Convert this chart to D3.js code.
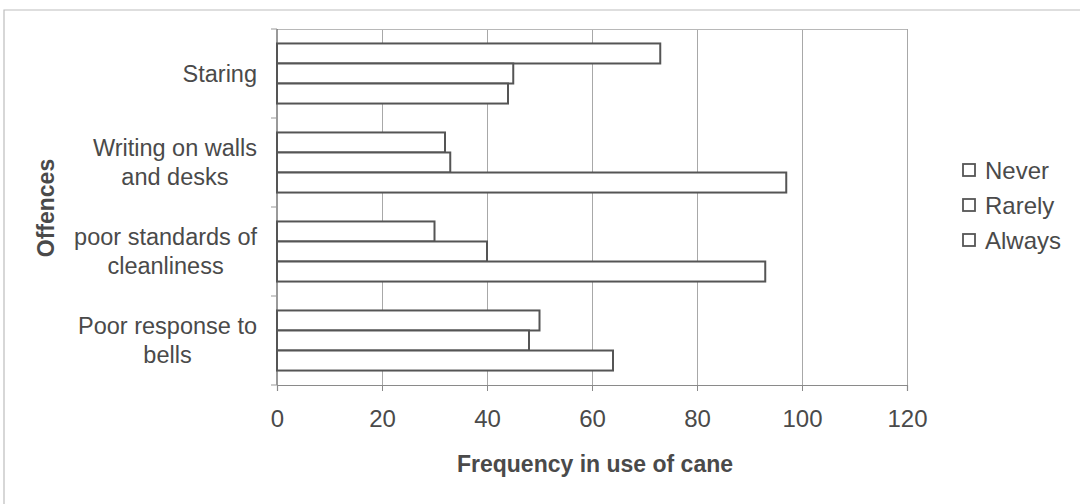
<!DOCTYPE html>
<html><head><meta charset="utf-8">
<script src="https://cdn.jsdelivr.net/npm/d3@7"></script>
<style>body{margin:0;background:#fff}svg{display:block}text{font-family:"Liberation Sans",Arial,sans-serif;fill:#4a4a4a}</style>
</head><body>
<svg id="c" width="1080" height="504"></svg>
<script>
const categories = [["Staring"],["Writing on walls","and desks"],["poor standards of","cleanliness"],["Poor response to","bells"]];
const seriesNames = ["Never","Rarely","Always"];
const never = [73,32,30,50];
const rarely = [45,33,40,48];
const always = [44,97,93,64];
const xTicks = [0,20,40,60,80,100,120];

const series = [never, rarely, always];
const svg = d3.select("#c");
const L=277,R=907,T=29,B=385;
const x = d3.scaleLinear().domain([0,120]).range([L,R]);
const y = d3.scaleBand().domain(d3.range(categories.length)).range([T,B]);
const inner = d3.scaleBand().domain(d3.range(3)).range([0, y.bandwidth()*0.675]);

// outer frame
svg.append("path").attr("d",`M4,${504}V10H1080`).attr("fill","none").attr("stroke","#bdbdbd").attr("stroke-width",1.2);

// gridlines
svg.append("g").selectAll("line").data(xTicks.slice(1)).join("line")
  .attr("x1",d=>x(d)+0.5).attr("x2",d=>x(d)+0.5).attr("y1",T).attr("y2",B)
  .attr("stroke","#a8a8a8").attr("stroke-width",1);
svg.append("line").attr("x1",L).attr("x2",R).attr("y1",T+0.5).attr("y2",T+0.5).attr("stroke","#b8b8b8");

// x axis
const xa = svg.append("g").attr("transform",`translate(0,${B})`)
  .call(d3.axisBottom(x).tickValues(xTicks).tickSize(6).tickPadding(19));
xa.select(".domain").attr("stroke","#8a8a8a").attr("stroke-width",1.2);
xa.selectAll(".tick line").attr("stroke","#8a8a8a");
xa.selectAll("text").attr("font-size",24).attr("fill","#4a4a4a").style("font-family","'Liberation Sans',Arial,sans-serif");

// y axis
svg.append("line").attr("x1",L).attr("x2",L).attr("y1",T).attr("y2",B).attr("stroke","#777").attr("stroke-width",1.5);
svg.append("g").selectAll("line").data(d3.range(categories.length+1)).join("line")
  .attr("x1",L-6).attr("x2",L).attr("y1",d=>T+d*y.step()).attr("y2",d=>T+d*y.step())
  .attr("stroke","#999");

// bars
const off = (y.bandwidth()-inner.range()[1])/2;
series.forEach((vals,si)=>{
  svg.append("g").selectAll("rect").data(vals).join("rect")
    .attr("x",x(0)).attr("y",(d,i)=>y(i)+off+inner(si))
    .attr("width",d=>x(d)-x(0)).attr("height",inner.bandwidth())
    .attr("fill","#fff").attr("stroke","#555").attr("stroke-width",2);
});

// category labels
const lab = svg.append("g");
categories.forEach((lines,i)=>{
  const cy = y(i)+y.bandwidth()/2;
  const lh = 29;
  const g = lab.append("g");
  const ts = lines.map((t,k)=>g.append("text").text(t).attr("font-size",23.5)
     .attr("text-anchor","middle").attr("dominant-baseline","central")
     .attr("y",cy+(k-(lines.length-1)/2)*lh));
  const w = d3.max(ts,t=>t.node().getComputedTextLength());
  ts.forEach(t=>t.attr("x",257-w/2));
});

// axis titles
svg.append("text").text("Frequency in use of cane").attr("x",(L+R)/2+3).attr("y",464)
  .attr("text-anchor","middle").attr("dominant-baseline","central").attr("font-size",23).attr("font-weight","bold");
svg.append("text").text("Offences").attr("transform",`translate(46,208) rotate(-90)`)
  .attr("text-anchor","middle").attr("dominant-baseline","central").attr("font-size",23).attr("font-weight","bold");

// legend
const lg = svg.append("g");
seriesNames.forEach((n,i)=>{
  const cy = 170+i*35;
  lg.append("rect").attr("x",963).attr("y",cy-6).attr("width",12).attr("height",12)
    .attr("fill","#fff").attr("stroke","#555").attr("stroke-width",1.8);
  lg.append("text").text(n).attr("x",985).attr("y",cy).attr("dominant-baseline","central").attr("font-size",24);
});
</script>
</body></html>
